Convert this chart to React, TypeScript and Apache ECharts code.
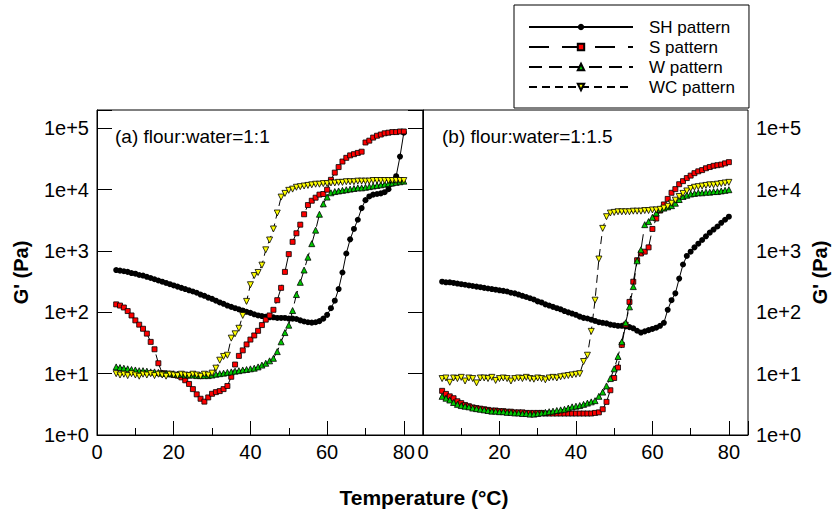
import React, { useEffect, useRef } from "react";
import * as echarts from "echarts";

// Temperature (°C) sample points
const temps = [
  5, 6, 7, 8, 9, 10, 11, 12, 13, 14, 15, 16, 17, 18, 19, 20, 21, 22, 23, 24,
  25, 26, 27, 28, 29, 30, 31, 32, 33, 34, 35, 36, 37, 38, 39, 40, 41, 42, 43, 44,
  45, 46, 47, 48, 49, 50, 51, 52, 53, 54, 55, 56, 57, 58, 59, 60, 61, 62, 63, 64,
  65, 66, 67, 68, 69, 70, 71, 72, 73, 74, 75, 76, 77, 78, 79, 80,
];

// (a) flour:water = 1:1  — G' (Pa)
const shA = [
  490, 479, 468, 457, 437, 427, 407, 398, 380, 363, 347, 331, 316, 302, 288, 275, 263, 251, 240, 229,
  219, 209, 195, 186, 174, 166, 155, 145, 138, 129, 123, 117, 112, 107, 102, 98, 93, 89, 87, 85,
  83, 83, 81, 81, 81, 79, 79, 78, 74, 71, 69, 68, 69, 72, 79, 91, 117, 155, 240, 447,
  912, 1550, 2290, 3240, 5010, 6760, 7760, 8320, 8510, 8710, 9120, 10200, 12600, 16600, 34700, 85000,
];
const sA = [
  135, 129, 120, 105, 89, 74, 63, 54, 45, 33, 25, 14.8, 10.2, 10.0, 9.8, 9.5, 9.3, 8.7, 7.8, 6.8,
  5.6, 4.6, 3.9, 3.5, 4.1, 4.7, 5.0, 5.2, 5.6, 6.3, 8.9, 14.1, 19.5, 24, 30, 36, 42, 50, 62, 76,
  89, 110, 158, 251, 457, 891, 1413, 1950, 2690, 3980, 5620, 6610, 7410, 8320, 8510, 10000, 14500, 19000, 23400, 28800,
  33100, 36300, 38000, 39800, 41700, 58900, 63100, 70800, 75900, 79400, 83200, 85100, 87100, 87100, 89100, 89100,
];
const wA = [
  12.9, 12.6, 12.3, 12.0, 11.7, 11.5, 11.2, 11.2, 11.0, 10.7, 10.7, 10.5, 10.2, 10.2, 10.0, 10.0, 9.8, 9.8, 9.5, 9.5,
  9.5, 9.3, 9.3, 9.3, 9.3, 9.5, 9.8, 10.0, 10.2, 10.5, 10.7, 11.0, 11.2, 11.5, 11.7, 12.0, 12.3, 12.9, 13.8, 14.8,
  16.2, 17.8, 22.9, 33.1, 46.8, 61.7, 107, 195, 309, 490, 794, 1318, 2188, 3981, 5888, 7586, 8913, 9333, 9550, 9772,
  10000, 10230, 10470, 10720, 10720, 10960, 11220, 11480, 11750, 12020, 12300, 12590, 12880, 13180, 13490, 13800,
];
const wcA = [
  10.0, 9.5, 9.8, 9.3, 10.0, 9.5, 9.1, 9.8, 9.5, 10.0, 9.3, 9.8, 9.5, 9.1, 9.8, 9.5, 9.3, 9.8, 9.5, 9.3,
  9.8, 9.5, 9.1, 9.8, 9.5, 10.2, 12.3, 16.6, 19.1, 20.0, 38.0, 44.7, 55.0, 89.1, 151, 282, 398, 447, 589, 1047,
  1514, 2291, 4169, 7586, 8710, 9772, 10230, 10960, 11220, 11480, 11750, 12020, 12300, 12300, 12590, 12590, 12880, 12880, 13180, 13180,
  13490, 13490, 13490, 13800, 13800, 13800, 13800, 14130, 14130, 14130, 14130, 14130, 14130, 14130, 14130, 14130,
];

// (b) flour:water = 1:1.5 — G' (Pa)
const shB = [
  316, 309, 309, 302, 295, 288, 282, 275, 269, 263, 257, 251, 245, 240, 234, 229, 224, 219, 209, 204,
  195, 186, 178, 170, 162, 151, 145, 135, 129, 123, 117, 112, 105, 100, 95.5, 91.2, 85.1, 81.3, 79.4, 75.9,
  72.4, 69.2, 67.6, 66.1, 63.1, 61.7, 60.3, 60.3, 58.9, 57.5, 55.0, 50.1, 46.8, 49.0, 51.3, 53.7, 56.2, 60.3, 67.6, 110,
  158, 204, 355, 603, 832, 977, 1148, 1318, 1514, 1738, 1995, 2239, 2512, 2884, 3236, 3631,
];
const sB = [
  5.25, 4.68, 4.27, 3.98, 3.55, 3.31, 3.09, 2.95, 2.82, 2.75, 2.69, 2.63, 2.57, 2.51, 2.51, 2.45, 2.45, 2.40, 2.40, 2.34,
  2.34, 2.34, 2.29, 2.29, 2.29, 2.29, 2.29, 2.24, 2.24, 2.24, 2.24, 2.24, 2.24, 2.24, 2.24, 2.24, 2.24, 2.24, 2.24, 2.24,
  2.29, 2.34, 2.63, 3.47, 5.37, 8.51, 12.6, 29.5, 63.1, 148, 316, 708, 912, 977, 1148, 2291, 3388, 4571, 5754, 7079,
  8913, 10230, 12300, 13800, 15490, 16980, 18620, 19950, 20890, 22390, 23440, 24550, 25120, 25700, 26920, 28180,
];
const wB = [
  4.27, 3.98, 3.72, 3.39, 3.16, 3.02, 2.95, 2.88, 2.75, 2.69, 2.63, 2.57, 2.51, 2.45, 2.45, 2.40, 2.40, 2.34, 2.34, 2.29,
  2.29, 2.24, 2.24, 2.19, 2.19, 2.24, 2.29, 2.34, 2.40, 2.45, 2.51, 2.57, 2.63, 2.75, 2.88, 2.95, 3.02, 3.16, 3.31, 3.47,
  3.63, 4.27, 5.01, 6.31, 8.32, 12.0, 19.1, 33.1, 67.6, 123, 263, 692, 1047, 2692, 3020, 3548, 4169, 4786, 5012, 5248,
  5495, 6026, 6918, 7762, 8128, 8511, 8710, 8913, 8913, 9120, 9120, 9333, 9333, 9550, 9772, 10000,
];
const wcB = [
  8.32, 8.51, 7.24, 8.51, 8.32, 8.71, 7.59, 8.51, 8.32, 7.08, 8.51, 8.51, 8.32, 8.71, 7.76, 8.32, 8.51, 8.32, 7.59, 8.32,
  8.51, 8.32, 8.71, 8.32, 8.13, 8.51, 8.32, 7.94, 8.51, 8.71, 8.51, 8.91, 9.12, 9.33, 9.55, 9.77, 10.0, 15.8, 20.0, 49.0,
  158, 741, 2344, 3631, 4169, 4266, 4365, 4365, 4365, 4365, 4467, 4467, 4467, 4571, 4571, 4677, 4677, 4786, 5012, 5370,
  6026, 6761, 7762, 8710, 9550, 10470, 10960, 11220, 11480, 11750, 12020, 12020, 12300, 12590, 12880, 13180,
];

const seriesNames = ["SH pattern", "S pattern", "W pattern", "WC pattern"];
const panelLabels = ["(a) flour:water=1:1", "(b) flour:water=1:1.5"];
const xTickLabels = [0, 20, 40, 60, 80];
const yName = "G' (Pa)";
const xName = "Temperature (°C)";

const FONT = "'Liberation Sans', Arial, Helvetica, sans-serif";

const markerStyles = [
  { symbol: "circle", size: 6, fill: "#000000", rotate: 0, dash: "solid" as any },
  { symbol: "rect", size: 5, fill: "#ff0000", rotate: 0, dash: [20, 13] as any },
  { symbol: "triangle", size: 6, fill: "#00c800", rotate: 0, dash: [13, 7] as any },
  { symbol: "triangle", size: 6, fill: "#ffff00", rotate: 180, dash: [8, 5] as any },
];

const panels = [
  [shA, sA, wA, wcA],
  [shB, sB, wB, wcB],
];

function yFmt(v: number) {
  const e = Math.log10(v);
  const r = Math.round(e);
  return Math.abs(e - r) < 1e-6 ? `1e+${r}` : "";
}
function xFmt(v: number) {
  return xTickLabels.includes(v) ? String(v) : "";
}

export default function App() {
  const ref = useRef<HTMLDivElement>(null);
  useEffect(() => {
    if (!ref.current) return;
    const chart = echarts.init(ref.current, undefined, { renderer: "svg" });

    const grids = [
      { left: 97, top: 110, width: 326, height: 325 },
      { left: 423, top: 110, width: 325, height: 325 },
    ].map((g) => ({ ...g, show: true, borderColor: "#000", borderWidth: 1, backgroundColor: "transparent" }));

    const xAxes = [0, 1].map((i) => ({
      type: "value",
      gridIndex: i,
      min: 0,
      max: 85,
      interval: 20,
      axisLine: { show: true, lineStyle: { color: "#000", width: 1 } },
      axisTick: { show: true, inside: true, length: 14, lineStyle: { color: "#000" } },
      minorTick: { show: true, splitNumber: 2, length: 7, lineStyle: { color: "#000" } },
      splitLine: { show: false },
      minorSplitLine: { show: false },
      axisLabel: { fontSize: 20, color: "#000", fontFamily: FONT, margin: 7, formatter: xFmt, showMaxLabel: true, showMinLabel: true },
    }));

    const yAxes = [0, 1].map((i) => ({
      type: "log",
      logBase: 10,
      gridIndex: i,
      position: i === 0 ? "left" : "right",
      min: 1,
      max: 199526,
      axisLine: { show: true, lineStyle: { color: "#000", width: 1 } },
      axisTick: { show: true, inside: true, length: 15, lineStyle: { color: "#000" } },
      splitLine: { show: false },
      axisLabel: { fontSize: 20, color: "#000", fontFamily: FONT, margin: 8, formatter: yFmt },
      name: yName,
      nameLocation: "middle",
      nameRotate: 90,
      nameGap: i === 0 ? 66 : 62,
      nameTextStyle: { fontSize: 20, fontWeight: "bold", color: "#000", fontFamily: FONT },
    }));

    const series: any[] = [];
    panels.forEach((panel, p) => {
      panel.forEach((vals, k) => {
        const st = markerStyles[k];
        series.push({
          type: "line",
          name: seriesNames[k],
          xAxisIndex: p,
          yAxisIndex: p,
          data: temps.map((t, j) => [t, vals[j]]),
          symbol: st.symbol,
          symbolSize: st.size,
          symbolRotate: st.rotate,
          showSymbol: true,
          showAllSymbol: true,
          lineStyle: { color: "#000", width: 1, type: st.dash },
          itemStyle: { color: st.fill, borderColor: "#000", borderWidth: k === 0 ? 0 : 0.8 },
          emphasis: { disabled: true },
          z: 2 + k,
        });
      });
    });

    chart.setOption({
      animation: false,
      backgroundColor: "#fff",
      grid: grids,
      xAxis: xAxes,
      yAxis: yAxes,
      series,
      legend: {
        data: seriesNames,
        orient: "vertical",
        left: 514,
        top: 5,
        padding: [12, 14, 11, 14],
        itemWidth: 104,
        itemHeight: 8,
        itemGap: 0,
        borderColor: "#000",
        borderWidth: 1,
        backgroundColor: "#fff",
        selectedMode: false,
        textStyle: { fontSize: 17, color: "#000", fontFamily: FONT, lineHeight: 20, padding: [0, 0, 0, 11] },
      },
      graphic: [
        {
          type: "text",
          left: 115,
          top: 127,
          style: { text: panelLabels[0], fontSize: 19, fill: "#000", fontFamily: FONT },
        },
        {
          type: "text",
          left: 442,
          top: 127,
          style: { text: panelLabels[1], fontSize: 19, fill: "#000", fontFamily: FONT },
        },
        {
          type: "text",
          x: 424,
          y: 497,
          style: {
            text: xName,
            fontSize: 21,
            fontWeight: "bold",
            fill: "#000",
            fontFamily: FONT,
            align: "center",
            verticalAlign: "middle",
          },
        },
      ],
    } as any);
    return () => chart.dispose();
  }, []);
  return (
    <div
      ref={ref}
      style={{ position: "absolute", left: 0, top: 0, width: 837, height: 510 }}
    />
  );
}
